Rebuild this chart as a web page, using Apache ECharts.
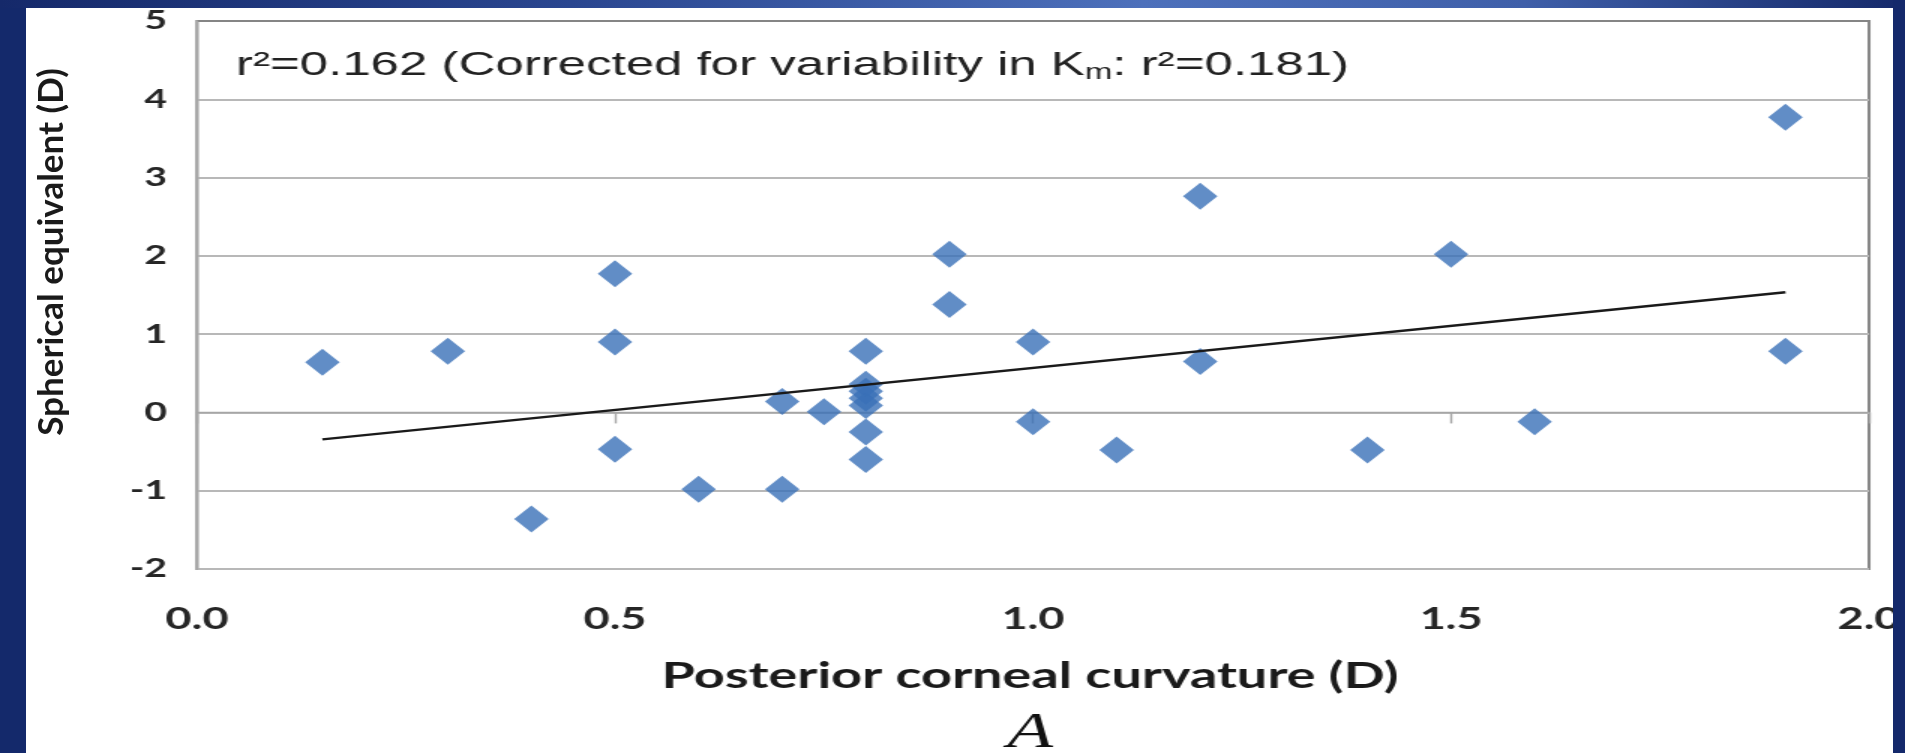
<!DOCTYPE html>
<html><head><meta charset="utf-8">
<script src="https://cdn.jsdelivr.net/npm/echarts@6/dist/echarts.min.js"></script>
<style>
html,body{margin:0;padding:0;width:1905px;height:753px;overflow:hidden;background:#14296b;}
#topband{position:absolute;left:0;top:0;width:1905px;height:8px;background:linear-gradient(to right,#15296a 0%,#2a4690 30%,#4d70bb 60%,#3f5fa9 80%,#15296a 100%);}
#panel{position:absolute;left:26px;top:8px;width:1867px;height:745px;background:#fff;}
#chart{position:absolute;left:0;top:0;width:1270px;height:753px;transform:scaleX(1.5);transform-origin:0 0;}
#ytitle{position:absolute;left:0;top:0;width:120px;height:753px;}
#rband{position:absolute;left:1893px;top:0;width:12px;height:753px;background:#14296b;}
</style></head>
<body>
<div id="topband"></div><div id="panel"></div><div id="chart"></div><div id="ytitle"></div><div id="rband"></div>
<script>
// ---- data ----
const xValues = [0.15, 0.3, 0.4, 0.5, 0.5, 0.5, 0.6, 0.7, 0.7, 0.75, 0.8, 0.8, 0.8, 0.8, 0.8, 0.8, 0.8, 0.9, 0.9, 1.0, 1.0, 1.1, 1.2, 1.2, 1.4, 1.5, 1.6, 1.9, 1.9];
const yValues = [0.64, 0.78, -1.36, 1.77, 0.9, -0.47, -0.98, 0.14, -0.98, 0.01, 0.78, 0.36, 0.27, 0.18, 0.09, -0.25, -0.6, 2.02, 1.38, 0.9, -0.12, -0.48, 2.76, 0.65, -0.48, 2.02, -0.12, 3.77, 0.78];
const trendX = [0.15, 1.9];
const trendY = [-0.345, 1.535];
const xTickLabels = ['0.0', '0.5', '1.0', '1.5', '2.0'];
const yTickLabels = ['-2', '-1', '0', '1', '2', '3', '4', '5'];
const annotation = ['r²=0.162 (Corrected for variability in K', 'm', ': r²=0.181)'];
const xTitle = 'Posterior corneal curvature (D)';
const yTitle = 'Spherical equivalent (D)';
const panelLabel = 'A';

const SX = 1.5; // horizontal stretch of the reference figure

const gridColors = ['#b8b8b8', '#b8b8b8', '#b8b8b8', '#b8b8b8', '#b8b8b8', '#b8b8b8', '#b8b8b8', '#858585'];

const chart = echarts.init(document.getElementById('chart'), null, {renderer: 'canvas'});
chart.setOption({
  animation: false,
  backgroundColor: 'transparent',
  grid: {left: 197 / SX, right: 1270 - 1870 / SX, top: 21, bottom: 184, show: true,
         borderColor: '#858585', borderWidth: 2, backgroundColor: 'transparent'},
  xAxis: {
    type: 'value', min: 0, max: 2, interval: 0.5,
    axisLine: {show: true, lineStyle: {color: '#a6a6a6', width: 1.4}},
    axisTick: {show: true, length: 11, lineStyle: {color: '#a6a6a6', width: 1.4}},
    splitLine: {show: false},
    axisLabel: {margin: 35, fontFamily: 'Lato', fontWeight: 'bold', fontSize: 30, color: '#262626',
      formatter: v => xTickLabels[Math.round(v / 0.5)]}
  },
  yAxis: {
    type: 'value', min: -2, max: 5, interval: 1,
    axisLine: {show: true, lineStyle: {color: '#a6a6a6', width: 1.4}},
    axisTick: {show: false},
    splitLine: {show: true, lineStyle: {color: gridColors, width: 2}},
    axisLabel: {margin: 20, fontFamily: 'Lato', fontWeight: 'bold', fontSize: 26, color: '#262626',
      formatter: v => yTickLabels[Math.round(v + 2)]}
  },
  series: [
    {type: 'scatter', symbol: 'diamond', symbolSize: [23, 27], z: 2,
     itemStyle: {color: '#3a71b8'},
     data: xValues.map((x, i) => [x, yValues[i]])},
    {type: 'line', showSymbol: false, symbol: 'none', z: 3,
     lineStyle: {color: '#1a1a1a', width: 2.4},
     data: trendX.map((x, i) => [x, trendY[i]])}
  ],
  graphic: [
    {type: 'text', x: 236 / SX, y: 66, z: 10,
     style: {text: '{a|' + annotation[0] + '}{s|' + annotation[1] + '}{a|' + annotation[2] + '}',
       verticalAlign: 'middle', align: 'left',
       rich: {
         a: {fontFamily: 'Liberation Sans', fontSize: 34, lineHeight: 40, color: '#222', fill: '#222'},
         s: {fontFamily: 'Liberation Sans', fontSize: 22, lineHeight: 24, padding: [16, 0, 0, 0], verticalAlign: 'top', color: '#222', fill: '#222'}
       }}},
    {type: 'text', x: 1030 / SX, y: 676, z: 10,
     style: {text: xTitle, font: 'bold 36px Lato', fill: '#1a1a1a', align: 'center', verticalAlign: 'middle'}},
    {type: 'text', x: 1030 / SX, y: 734, z: 10,
     style: {text: panelLabel, font: 'italic 50px "Liberation Serif"', fill: '#111', align: 'center', verticalAlign: 'middle'}}
  ]
});

const yt = echarts.init(document.getElementById('ytitle'), null, {renderer: 'canvas'});
yt.setOption({
  animation: false,
  backgroundColor: 'transparent',
  graphic: [
    {type: 'text', x: 52, y: 252, rotation: Math.PI / 2,
     style: {text: yTitle, font: 'bold 35px Lato', fill: '#1a1a1a', align: 'center', verticalAlign: 'middle'}}
  ]
});
</script>
</body></html>
